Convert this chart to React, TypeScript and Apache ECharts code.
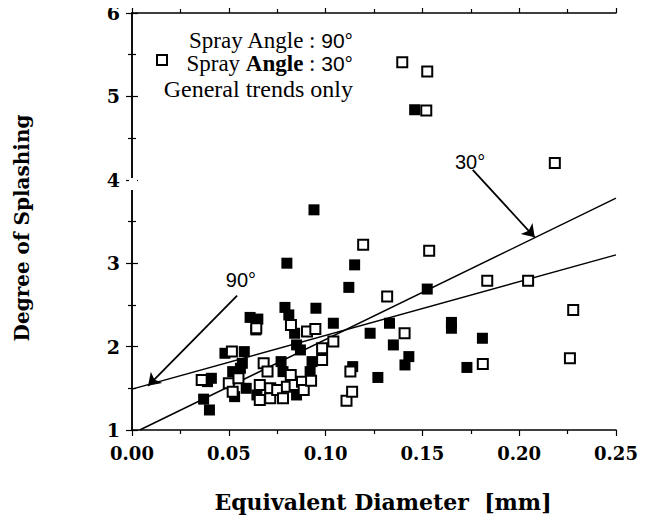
import React, { useEffect, useRef } from "react";
import * as echarts from "echarts";

const xTicks = [0, 0.05, 0.1, 0.15, 0.2, 0.25];
const yTicks = [1, 2, 3, 4, 5, 6];

// Spray angle 90° (filled squares)
const spray90: number[][] = [
  [0.039, 1.58], [0.037, 1.37], [0.040, 1.24], [0.041, 1.62],
  [0.048, 1.92], [0.052, 1.70], [0.053, 1.40], [0.056, 1.74], [0.058, 1.94], [0.059, 1.50],
  [0.057, 1.80], [0.0645, 1.42],
  [0.061, 2.35], [0.065, 2.33], [0.064, 2.20],
  [0.077, 1.82], [0.078, 1.70], [0.079, 2.47], [0.081, 2.38], [0.080, 3.00],
  [0.084, 2.16], [0.085, 2.02], [0.087, 1.96], [0.085, 1.42],
  [0.093, 1.82], [0.092, 1.70], [0.094, 3.64], [0.095, 2.46],
  [0.104, 2.28], [0.112, 2.71], [0.114, 1.76], [0.115, 2.98],
  [0.123, 2.16], [0.127, 1.63], [0.133, 2.28], [0.135, 2.02], [0.141, 1.78], [0.143, 1.88],
  [0.146, 4.84], [0.1525, 2.69], [0.165, 2.29], [0.165, 2.22], [0.173, 1.75], [0.181, 2.10],
];

// Spray angle 30° (open squares)
const spray30: number[][] = [
  [0.036, 1.60],
  [0.0516, 1.94], [0.050, 1.56], [0.055, 1.62], [0.052, 1.46],
  [0.0642, 2.22], [0.066, 1.54], [0.066, 1.36], [0.068, 1.80], [0.070, 1.70], [0.0714, 1.50], [0.0714, 1.38],
  [0.075, 1.48], [0.078, 1.38], [0.080, 1.52], [0.082, 1.66], [0.0821, 2.26], [0.084, 1.54],
  [0.0878, 1.58], [0.0887, 1.48], [0.0925, 1.59], [0.0904, 2.18], [0.0947, 2.21],
  [0.0982, 1.98], [0.0982, 1.84], [0.104, 2.06],
  [0.1108, 1.35], [0.1137, 1.46], [0.1128, 1.70], [0.1194, 3.22],
  [0.1318, 2.60], [0.1396, 5.41], [0.1408, 2.16], [0.152, 4.83], [0.1525, 5.30], [0.1535, 3.15],
  [0.1812, 1.79], [0.1835, 2.79], [0.2046, 2.79], [0.2184, 4.20], [0.2262, 1.86], [0.2279, 2.44],
];

// General trend lines
const trend90: number[][] = [[0, 1.49], [0.25, 3.1]];
const trend30: number[][] = [[0.004, 1.0], [0.25, 3.78]];

// Annotation arrows and labels
const arrow90: number[][] = [[0.0543, 2.61], [0.0083, 1.53]];
const arrow30: number[][] = [[0.176, 4.12], [0.208, 3.31]];
const angleLabels = [
  { name: "90°", value: [0.0563, 2.8] },
  { name: "30°", value: [0.1746, 4.21] },
];

const serifBold = '"DejaVu Serif"';

export default function App() {
  const ref = useRef<HTMLDivElement>(null);
  useEffect(() => {
    if (!ref.current) return;
    const chart = echarts.init(ref.current, undefined, { renderer: "svg" });
    const axisLine = { show: true, lineStyle: { color: "#000", width: 1.5 } };
    const tickStyle = { color: "#000", width: 1.2 };
    const baseX = {
      type: "value",
      min: xTicks[0],
      max: xTicks[xTicks.length - 1],
      interval: 0.05,
      splitLine: { show: false },
      axisLine,
      axisTick: { show: true, length: 6, lineStyle: tickStyle },
      minorTick: { show: true, splitNumber: 2, length: 4, lineStyle: tickStyle },
    };
    const baseY = {
      type: "value",
      min: yTicks[0],
      max: yTicks[yTicks.length - 1],
      interval: 1,
      splitLine: { show: false },
      axisLine,
      axisTick: { show: true, length: 6, lineStyle: tickStyle },
      minorTick: { show: true, splitNumber: 2, length: 4, lineStyle: tickStyle },
    };
    chart.setOption({
      animation: false,
      backgroundColor: "#fff",
      grid: { left: 132, right: 37, top: 13, bottom: 97 },
      xAxis: [
        {
          ...baseX,
          position: "bottom",
          axisLabel: {
            formatter: (v: number) => v.toFixed(2),
            fontFamily: serifBold,
            fontWeight: "bold",
            fontSize: 18,
            color: "#000",
            margin: 14,
          },
        },
        { ...baseX, position: "top", axisLabel: { show: false } },
      ],
      yAxis: [
        {
          ...baseY,
          position: "left",
          axisLabel: {
            fontFamily: serifBold,
            fontWeight: "bold",
            fontSize: 19,
            color: "#000",
            margin: 12,
          },
        },
        { ...baseY, position: "right", axisLabel: { show: false } },
      ],
      series: [
        {
          type: "line",
          data: trend90,
          symbol: "none",
          lineStyle: { color: "#000", width: 1.5 },
          z: 3,
        },
        {
          type: "line",
          data: trend30,
          symbol: "none",
          lineStyle: { color: "#000", width: 1.5 },
          z: 3,
        },
        {
          name: "Spray Angle : 90°",
          type: "scatter",
          data: spray90,
          symbol: "rect",
          symbolSize: 11,
          itemStyle: { color: "#000", opacity: 1 },
          z: 4,
        },
        {
          name: "Spray Angle : 30°",
          type: "scatter",
          data: spray30,
          symbol: "rect",
          symbolSize: 10,
          itemStyle: { color: "#fff", borderColor: "#000", borderWidth: 2, opacity: 1 },
          z: 5,
        },
        {
          type: "scatter",
          data: angleLabels,
          symbolSize: 1,
          itemStyle: { color: "rgba(0,0,0,0)", opacity: 1 },
          label: {
            show: true,
            position: "inside",
            formatter: (p: any) => p.name,
            color: "#000",
            fontSize: 20,
            fontFamily: '"Liberation Sans"',
          },
          markLine: {
            silent: true,
            symbol: ["none", "arrow"],
            symbolSize: 12,
            label: { show: false },
            lineStyle: { color: "#000", width: 1.8, type: "solid", opacity: 1 },
            data: [
              [{ coord: arrow90[0] }, { coord: arrow90[1] }],
              [{ coord: arrow30[0] }, { coord: arrow30[1] }],
            ],
          },
          z: 6,
        },
      ],
      graphic: [
        // axis break on left axis near 4
        { type: "rect", shape: { x: 129, y: 178, width: 8, height: 12 }, style: { fill: "#fff" }, z: 100 },
        {
          type: "text",
          x: 353,
          y: 40,
          style: {
            text: "{s|Spray Angle : }{n|90°}",
            textAlign: "right",
            textVerticalAlign: "middle",
            rich: {
              s: { fontFamily: '"Liberation Serif"', fontSize: 23, fill: "#000", color: "#000" },
              n: { fontFamily: '"Liberation Sans"', fontSize: 21, fill: "#000", color: "#000" },
            },
          },
          z: 100,
        },
        {
          type: "text",
          x: 353,
          y: 63,
          style: {
            text: "{s|Spray }{b|Angle}{s| : }{n|30°}",
            textAlign: "right",
            textVerticalAlign: "middle",
            rich: {
              s: { fontFamily: '"Liberation Serif"', fontSize: 23, fill: "#000", color: "#000" },
              b: { fontFamily: '"Liberation Serif"', fontSize: 23, fontWeight: "bold", fill: "#000", color: "#000" },
              n: { fontFamily: '"Liberation Sans"', fontSize: 21, fill: "#000", color: "#000" },
            },
          },
          z: 100,
        },
        {
          type: "rect",
          shape: { x: 157, y: 55, width: 10, height: 10 },
          style: { fill: "#fff", stroke: "#000", lineWidth: 2 },
          z: 100,
        },
        {
          type: "text",
          x: 353,
          y: 89,
          style: {
            text: "General trends only",
            textAlign: "right",
            textVerticalAlign: "middle",
            font: '24px "Liberation Serif"',
            fill: "#000",
          },
          z: 100,
        },
        {
          type: "text",
          x: 22,
          y: 228,
          rotation: Math.PI / 2,
          style: {
            text: "Degree of Splashing",
            textAlign: "center",
            textVerticalAlign: "middle",
            font: 'bold 20px "DejaVu Serif"',
            fill: "#000",
          },
          z: 100,
        },
        {
          type: "text",
          x: 383,
          y: 502,
          style: {
            text: "Equivalent Diameter  [mm]",
            textAlign: "center",
            textVerticalAlign: "middle",
            font: 'bold 22px "DejaVu Serif"',
            fill: "#000",
          },
          z: 100,
        },
      ],
    });
    return () => chart.dispose();
  }, []);
  return <div ref={ref} style={{ width: 653, height: 527, margin: -8 }} />;
}
